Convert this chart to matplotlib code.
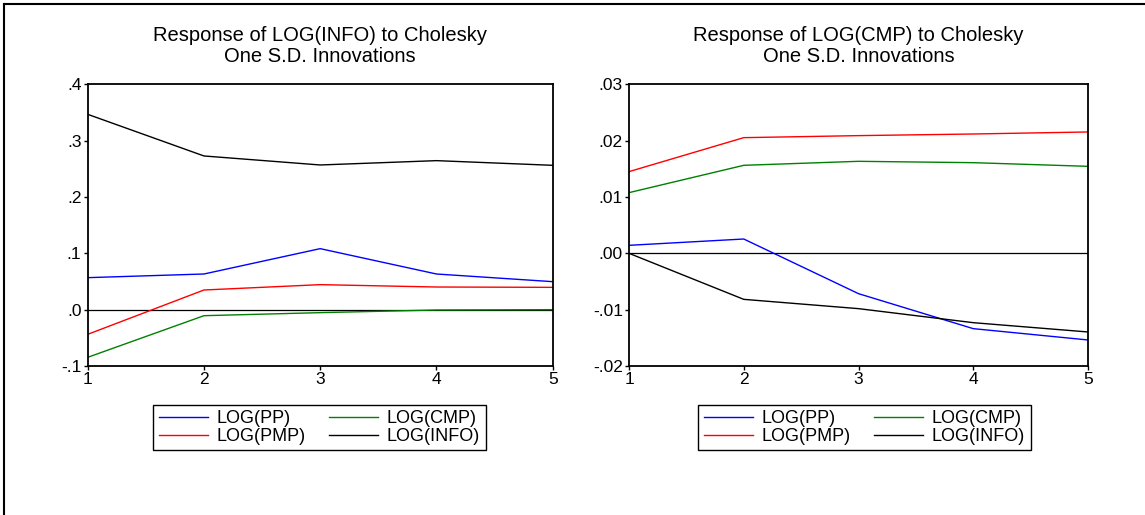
import matplotlib
matplotlib.use("Agg")
import matplotlib.pyplot as plt
from matplotlib.lines import Line2D
from matplotlib.ticker import FuncFormatter

plt.rcParams['font.family'] = ['Liberation Sans', 'DejaVu Sans']

# 数据：脉冲响应期数
periods = [1, 2, 3, 4, 5]

# 左图：LOG(INFO) 的响应
info_pp = [0.0568, 0.0633, 0.1083, 0.0633, 0.0497]
info_pmp = [-0.0438, 0.0349, 0.0444, 0.0402, 0.0396]
info_cmp = [-0.0846, -0.0107, -0.0053, -0.0006, 0.0000]
info_info = [0.3467, 0.2728, 0.2568, 0.2645, 0.2562]

# 右图：LOG(CMP) 的响应
cmp_pp = [0.00142, 0.00254, -0.00716, -0.01337, -0.01538]
cmp_pmp = [0.0145, 0.02053, 0.02089, 0.02118, 0.02154]
cmp_cmp = [0.01077, 0.01562, 0.01633, 0.01609, 0.01544]
cmp_info = [0.0, -0.00817, -0.00982, -0.01231, -0.01396]

series_names = ["LOG(PP)", "LOG(PMP)", "LOG(CMP)", "LOG(INFO)"]
series_colors = ["#0000ff", "#ff0000", "#008000", "#000000"]

left_yticks = [-0.1, 0.0, 0.1, 0.2, 0.3, 0.4]
right_yticks = [-0.02, -0.01, 0.0, 0.01, 0.02, 0.03]


def strip_zero(fmt):
    # EViews 风格的刻度：去掉前导 0
    def f(v, pos):
        s = format(v, fmt)
        if s.startswith("-0"):
            s = "-" + s[2:]
        elif s.startswith("0"):
            s = s[1:]
        return s
    return FuncFormatter(f)


fig = plt.figure(figsize=(11.45, 5.15), dpi=100)
W, H = 1145, 515


def draw_panel(rect, data, title, yticks, fmt, legend_center):
    ax = fig.add_axes(rect)
    for vals, name, color in zip(data, series_names, series_colors):
        ax.plot(periods, vals, color=color, lw=1.0, label=name)
    ax.axhline(0, color="black", lw=0.9, zorder=1)
    ax.set_xlim(1, 5)
    ax.set_ylim(yticks[0], yticks[-1])
    ax.set_xticks(periods)
    ax.set_yticks(yticks)
    ax.yaxis.set_major_formatter(strip_zero(fmt))
    ax.tick_params(direction="out", length=3, width=1, labelsize=12.5, pad=1.5)
    for sp in ax.spines.values():
        sp.set_linewidth(1.3)
    ax.set_title(title, fontsize=14.5, linespacing=1.17, pad=16)
    ax.legend(loc="center", ncol=2, bbox_to_anchor=legend_center,
              bbox_transform=fig.transFigure, fontsize=13, frameon=True,
              fancybox=False, edgecolor="black", framealpha=1,
              handlelength=2.7, handletextpad=0.5, columnspacing=1.3,
              labelspacing=0.05, borderpad=0.3, shadow=False)
    ax.get_legend().get_frame().set_linewidth(1.0)
    return ax


draw_panel([87.7 / W, 1 - 366 / H, 465 / W, 281.7 / H],
           [info_pp, info_pmp, info_cmp, info_info],
           "Response of LOG(INFO) to Cholesky\nOne S.D. Innovations",
           left_yticks, ".1f", (319.5 / W, 1 - 427.5 / H))

draw_panel([629 / W, 1 - 366 / H, 459 / W, 281.7 / H],
           [cmp_pp, cmp_pmp, cmp_cmp, cmp_info],
           "Response of LOG(CMP) to Cholesky\nOne S.D. Innovations",
           right_yticks, ".2f", (864.5 / W, 1 - 427.5 / H))

# 外框
fig.add_artist(Line2D([4 / W, 1], [1 - 3.5 / H, 1 - 3.5 / H], color="black", lw=1.5))
fig.add_artist(Line2D([4 / W, 4 / W], [0, 1 - 3.5 / H], color="black", lw=1.5))

fig.savefig("out.png", dpi=100)
